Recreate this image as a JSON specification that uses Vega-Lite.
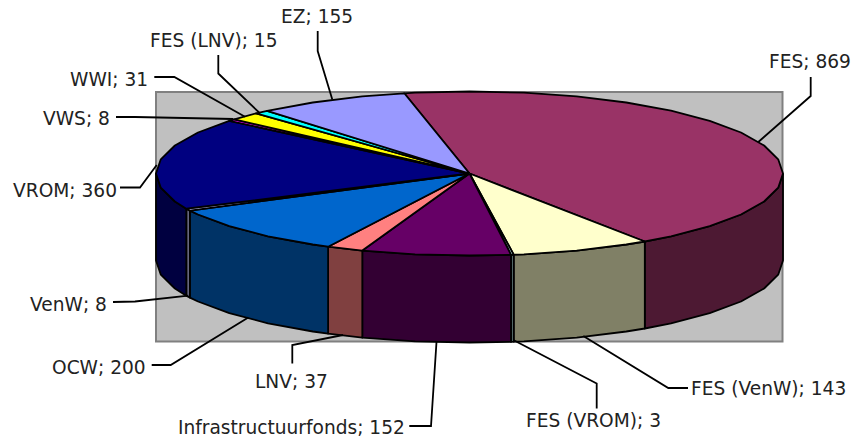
{"$schema":"https://vega.github.io/schema/vega-lite/v6.json","width":860,"height":444,"autosize":{"type":"fit","contains":"padding"},"padding":0,"background":"white","config":{"view":{"stroke":null}},
"datasets":{
"wall":[{"x0":156,"x1":782.5,"y0":91.5,"y1":341}],
"faces":[
{"part":"FES side","i":0,"x":783,"y":173},{"part":"FES side","i":1,"x":778.2,"y":187.2},{"part":"FES side","i":2,"x":764.1,"y":201},{"part":"FES side","i":3,"x":741,"y":214},{"part":"FES side","i":4,"x":709.7,"y":225.7},{"part":"FES side","i":5,"x":671,"y":235.8},{"part":"FES side","i":6,"x":644.8,"y":241},{"part":"FES side","i":7,"x":644.8,"y":328},{"part":"FES side","i":8,"x":671,"y":322.8},{"part":"FES side","i":9,"x":709.7,"y":312.7},{"part":"FES side","i":10,"x":741,"y":301},{"part":"FES side","i":11,"x":764.1,"y":288},{"part":"FES side","i":12,"x":778.2,"y":274.2},{"part":"FES side","i":13,"x":783,"y":260},{"part":"FES side","i":14,"x":783,"y":173},
{"part":"FES (VenW) side","i":0,"x":644.8,"y":241},{"part":"FES (VenW) side","i":1,"x":626.3,"y":244},{"part":"FES (VenW) side","i":2,"x":576.7,"y":250.1},{"part":"FES (VenW) side","i":3,"x":523.9,"y":253.8},{"part":"FES (VenW) side","i":4,"x":513.7,"y":254.2},{"part":"FES (VenW) side","i":5,"x":513.7,"y":341.2},{"part":"FES (VenW) side","i":6,"x":523.9,"y":340.8},{"part":"FES (VenW) side","i":7,"x":576.7,"y":337.1},{"part":"FES (VenW) side","i":8,"x":626.3,"y":331},{"part":"FES (VenW) side","i":9,"x":644.8,"y":328},{"part":"FES (VenW) side","i":10,"x":644.8,"y":241},
{"part":"FES (VROM) side","i":0,"x":513.7,"y":254.2},{"part":"FES (VROM) side","i":1,"x":511,"y":254.3},{"part":"FES (VROM) side","i":2,"x":511,"y":341.3},{"part":"FES (VROM) side","i":3,"x":513.7,"y":341.2},{"part":"FES (VROM) side","i":4,"x":513.7,"y":254.2},
{"part":"Infrastructuurfonds side","i":0,"x":511,"y":254.3},{"part":"Infrastructuurfonds side","i":1,"x":469.5,"y":255},{"part":"Infrastructuurfonds side","i":2,"x":415.1,"y":253.8},{"part":"Infrastructuurfonds side","i":3,"x":362.3,"y":250.1},{"part":"Infrastructuurfonds side","i":4,"x":362.3,"y":337.1},{"part":"Infrastructuurfonds side","i":5,"x":415.1,"y":340.8},{"part":"Infrastructuurfonds side","i":6,"x":469.5,"y":342},{"part":"Infrastructuurfonds side","i":7,"x":511,"y":341.3},{"part":"Infrastructuurfonds side","i":8,"x":511,"y":254.3},
{"part":"LNV side","i":0,"x":362.3,"y":250.1},{"part":"LNV side","i":1,"x":328.1,"y":246.2},{"part":"LNV side","i":2,"x":328.1,"y":333.2},{"part":"LNV side","i":3,"x":362.3,"y":337.1},{"part":"LNV side","i":4,"x":362.3,"y":250.1},
{"part":"OCW side","i":0,"x":328.1,"y":246.2},{"part":"OCW side","i":1,"x":312.8,"y":244},{"part":"OCW side","i":2,"x":268,"y":235.8},{"part":"OCW side","i":3,"x":229.3,"y":225.7},{"part":"OCW side","i":4,"x":198,"y":214},{"part":"OCW side","i":5,"x":189.9,"y":210.1},{"part":"OCW side","i":6,"x":189.9,"y":297.1},{"part":"OCW side","i":7,"x":198,"y":301},{"part":"OCW side","i":8,"x":229.3,"y":312.7},{"part":"OCW side","i":9,"x":268,"y":322.8},{"part":"OCW side","i":10,"x":312.8,"y":331},{"part":"OCW side","i":11,"x":328.1,"y":333.2},{"part":"OCW side","i":12,"x":328.1,"y":246.2},
{"part":"VenW side","i":0,"x":189.9,"y":210.1},{"part":"VenW side","i":1,"x":186.3,"y":208.2},{"part":"VenW side","i":2,"x":186.3,"y":295.2},{"part":"VenW side","i":3,"x":189.9,"y":297.1},{"part":"VenW side","i":4,"x":189.9,"y":210.1},
{"part":"VROM side","i":0,"x":186.3,"y":208.2},{"part":"VROM side","i":1,"x":174.9,"y":201},{"part":"VROM side","i":2,"x":160.8,"y":187.2},{"part":"VROM side","i":3,"x":156,"y":173},{"part":"VROM side","i":4,"x":156,"y":260},{"part":"VROM side","i":5,"x":160.8,"y":274.2},{"part":"VROM side","i":6,"x":174.9,"y":288},{"part":"VROM side","i":7,"x":186.3,"y":295.2},{"part":"VROM side","i":8,"x":186.3,"y":208.2},
{"part":"FES top","i":0,"x":469.5,"y":173},{"part":"FES top","i":1,"x":404.3,"y":92.8},{"part":"FES top","i":2,"x":415.1,"y":92.2},{"part":"FES top","i":3,"x":469.5,"y":91},{"part":"FES top","i":4,"x":523.9,"y":92.2},{"part":"FES top","i":5,"x":576.7,"y":95.9},{"part":"FES top","i":6,"x":626.3,"y":102},{"part":"FES top","i":7,"x":671,"y":110.2},{"part":"FES top","i":8,"x":709.7,"y":120.3},{"part":"FES top","i":9,"x":741,"y":132},{"part":"FES top","i":10,"x":764.1,"y":145},{"part":"FES top","i":11,"x":778.2,"y":158.8},{"part":"FES top","i":12,"x":783,"y":173},{"part":"FES top","i":13,"x":778.2,"y":187.2},{"part":"FES top","i":14,"x":764.1,"y":201},{"part":"FES top","i":15,"x":741,"y":214},{"part":"FES top","i":16,"x":709.7,"y":225.7},{"part":"FES top","i":17,"x":671,"y":235.8},{"part":"FES top","i":18,"x":644.8,"y":241},{"part":"FES top","i":19,"x":469.5,"y":173},
{"part":"FES (VenW) top","i":0,"x":469.5,"y":173},{"part":"FES (VenW) top","i":1,"x":644.8,"y":241},{"part":"FES (VenW) top","i":2,"x":626.3,"y":244},{"part":"FES (VenW) top","i":3,"x":576.7,"y":250.1},{"part":"FES (VenW) top","i":4,"x":523.9,"y":253.8},{"part":"FES (VenW) top","i":5,"x":513.7,"y":254.2},{"part":"FES (VenW) top","i":6,"x":469.5,"y":173},
{"part":"FES (VROM) top","i":0,"x":469.5,"y":173},{"part":"FES (VROM) top","i":1,"x":513.7,"y":254.2},{"part":"FES (VROM) top","i":2,"x":511,"y":254.3},{"part":"FES (VROM) top","i":3,"x":469.5,"y":173},
{"part":"Infrastructuurfonds top","i":0,"x":469.5,"y":173},{"part":"Infrastructuurfonds top","i":1,"x":511,"y":254.3},{"part":"Infrastructuurfonds top","i":2,"x":469.5,"y":255},{"part":"Infrastructuurfonds top","i":3,"x":415.1,"y":253.8},{"part":"Infrastructuurfonds top","i":4,"x":362.3,"y":250.1},{"part":"Infrastructuurfonds top","i":5,"x":469.5,"y":173},
{"part":"LNV top","i":0,"x":469.5,"y":173},{"part":"LNV top","i":1,"x":362.3,"y":250.1},{"part":"LNV top","i":2,"x":328.1,"y":246.2},{"part":"LNV top","i":3,"x":469.5,"y":173},
{"part":"OCW top","i":0,"x":469.5,"y":173},{"part":"OCW top","i":1,"x":328.1,"y":246.2},{"part":"OCW top","i":2,"x":312.8,"y":244},{"part":"OCW top","i":3,"x":268,"y":235.8},{"part":"OCW top","i":4,"x":229.3,"y":225.7},{"part":"OCW top","i":5,"x":198,"y":214},{"part":"OCW top","i":6,"x":189.9,"y":210.1},{"part":"OCW top","i":7,"x":469.5,"y":173},
{"part":"VenW top","i":0,"x":469.5,"y":173},{"part":"VenW top","i":1,"x":189.9,"y":210.1},{"part":"VenW top","i":2,"x":186.3,"y":208.2},{"part":"VenW top","i":3,"x":469.5,"y":173},
{"part":"VROM top","i":0,"x":469.5,"y":173},{"part":"VROM top","i":1,"x":186.3,"y":208.2},{"part":"VROM top","i":2,"x":174.9,"y":201},{"part":"VROM top","i":3,"x":160.8,"y":187.2},{"part":"VROM top","i":4,"x":156,"y":173},{"part":"VROM top","i":5,"x":160.8,"y":158.8},{"part":"VROM top","i":6,"x":174.9,"y":145},{"part":"VROM top","i":7,"x":198,"y":132},{"part":"VROM top","i":8,"x":229.3,"y":120.3},{"part":"VROM top","i":9,"x":469.5,"y":173},
{"part":"VWS top","i":0,"x":469.5,"y":173},{"part":"VWS top","i":1,"x":229.3,"y":120.3},{"part":"VWS top","i":2,"x":234.3,"y":118.8},{"part":"VWS top","i":3,"x":469.5,"y":173},
{"part":"WWI top","i":0,"x":469.5,"y":173},{"part":"WWI top","i":1,"x":234.3,"y":118.8},{"part":"WWI top","i":2,"x":256.1,"y":112.9},{"part":"WWI top","i":3,"x":469.5,"y":173},
{"part":"FES (LNV) top","i":0,"x":469.5,"y":173},{"part":"FES (LNV) top","i":1,"x":256.1,"y":112.9},{"part":"FES (LNV) top","i":2,"x":267.1,"y":110.4},{"part":"FES (LNV) top","i":3,"x":469.5,"y":173},
{"part":"EZ top","i":0,"x":469.5,"y":173},{"part":"EZ top","i":1,"x":267.1,"y":110.4},{"part":"EZ top","i":2,"x":312.8,"y":102},{"part":"EZ top","i":3,"x":362.3,"y":95.9},{"part":"EZ top","i":4,"x":404.3,"y":92.8},{"part":"EZ top","i":5,"x":469.5,"y":173}
],
"leaders":[
{"k":"FES","i":0,"x":810.7,"y":76.5},{"k":"FES","i":1,"x":810.7,"y":95.5},{"k":"FES","i":2,"x":758.3,"y":141.5},
{"k":"FES (VenW)","i":0,"x":688,"y":387.5},{"k":"FES (VenW)","i":1,"x":668.3,"y":387.5},{"k":"FES (VenW)","i":2,"x":583.3,"y":335.5},
{"k":"FES (VROM)","i":0,"x":596.7,"y":408},{"k":"FES (VROM)","i":1,"x":596.7,"y":383},{"k":"FES (VROM)","i":2,"x":513.3,"y":339.5},
{"k":"Infrastructuurfonds","i":0,"x":409.3,"y":425.5},{"k":"Infrastructuurfonds","i":1,"x":431,"y":425.5},{"k":"Infrastructuurfonds","i":2,"x":436.5,"y":341.5},
{"k":"LNV","i":0,"x":292.3,"y":363},{"k":"LNV","i":1,"x":292.3,"y":344.5},{"k":"LNV","i":2,"x":343,"y":334.5},
{"k":"OCW","i":0,"x":151.7,"y":364.5},{"k":"OCW","i":1,"x":170.7,"y":364.5},{"k":"OCW","i":2,"x":248.3,"y":317},
{"k":"VenW","i":0,"x":113,"y":301.5},{"k":"VenW","i":1,"x":135,"y":301},{"k":"VenW","i":2,"x":188.3,"y":295.2},
{"k":"VROM","i":0,"x":120,"y":187},{"k":"VROM","i":1,"x":140,"y":187},{"k":"VROM","i":2,"x":156.7,"y":164.5},
{"k":"VWS","i":0,"x":116,"y":116.5},{"k":"VWS","i":1,"x":135,"y":116.5},{"k":"VWS","i":2,"x":233.3,"y":118.5},
{"k":"WWI","i":0,"x":154.3,"y":76.5},{"k":"WWI","i":1,"x":174.3,"y":76.5},{"k":"WWI","i":2,"x":245,"y":116.2},
{"k":"FES (LNV)","i":0,"x":218.3,"y":54.5},{"k":"FES (LNV)","i":1,"x":218.3,"y":73},{"k":"FES (LNV)","i":2,"x":259.3,"y":112.2},
{"k":"EZ","i":0,"x":317.7,"y":30.5},{"k":"EZ","i":1,"x":317.7,"y":50.5},{"k":"EZ","i":2,"x":332.3,"y":99}
],
"labels":[
{"name":"FES","value":869,"label":"FES; 869","x":769,"y":61},
{"name":"FES (VenW)","value":143,"label":"FES (VenW); 143","x":691,"y":388},
{"name":"FES (VROM)","value":3,"label":"FES (VROM); 3","x":526,"y":420},
{"name":"Infrastructuurfonds","value":152,"label":"Infrastructuurfonds; 152","x":178,"y":427},
{"name":"LNV","value":37,"label":"LNV; 37","x":255,"y":381},
{"name":"OCW","value":200,"label":"OCW; 200","x":52,"y":367},
{"name":"VenW","value":8,"label":"VenW; 8","x":30,"y":304},
{"name":"VROM","value":360,"label":"VROM; 360","x":13,"y":190},
{"name":"VWS","value":8,"label":"VWS; 8","x":43,"y":118},
{"name":"WWI","value":31,"label":"WWI; 31","x":70,"y":79},
{"name":"FES (LNV)","value":15,"label":"FES (LNV); 15","x":150,"y":40},
{"name":"EZ","value":155,"label":"EZ; 155","x":281,"y":16}
]},
"layer":[
{"data":{"name":"wall"},"mark":{"type":"rect","fill":"#C0C0C0","stroke":"#808080","strokeWidth":2},
"encoding":{"x":{"field":"x0","type":"quantitative","scale":{"domain":[0,860],"nice":false,"zero":false},"axis":null},"x2":{"field":"x1"},"y":{"field":"y0","type":"quantitative","scale":{"domain":[443.5,-0.5],"nice":false,"zero":false},"axis":null},"y2":{"field":"y1"}}},
{"data":{"name":"faces"},"mark":{"type":"line","stroke":"black","strokeWidth":1.8,"strokeJoin":"round","interpolate":"linear"},
"encoding":{"x":{"field":"x","type":"quantitative","scale":{"domain":[0,860],"nice":false,"zero":false},"axis":null},"y":{"field":"y","type":"quantitative","scale":{"domain":[443.5,-0.5],"nice":false,"zero":false},"axis":null},"order":{"field":"i","type":"quantitative"},"detail":{"field":"part"},
"fill":{"field":"part","type":"nominal","legend":null,"scale":{
"domain":["FES side","FES (VenW) side","FES (VROM) side","Infrastructuurfonds side","LNV side","OCW side","VenW side","VROM side","FES top","FES (VenW) top","FES (VROM) top","Infrastructuurfonds top","LNV top","OCW top","VenW top","VROM top","VWS top","WWI top","FES (LNV) top","EZ top"],
"range":["#4D1933","#808066","#668080","#330033","#804040","#003366","#666680","#000040","#993366","#FFFFCC","#CCFFFF","#660066","#FF8080","#0066CC","#CCCCFF","#000080","#FF00FF","#FFFF00","#00FFFF","#9999FF"]}}}},
{"data":{"name":"leaders"},"mark":{"type":"line","stroke":"black","strokeWidth":1.8,"fill":null},
"encoding":{"x":{"field":"x","type":"quantitative","scale":{"domain":[0,860],"nice":false,"zero":false},"axis":null},"y":{"field":"y","type":"quantitative","scale":{"domain":[443.5,-0.5],"nice":false,"zero":false},"axis":null},"order":{"field":"i","type":"quantitative"},"detail":{"field":"k"}}},
{"data":{"name":"labels"},"mark":{"type":"text","align":"left","baseline":"middle","font":"DejaVu Sans","fontSize":18.6,"fill":"#222222"},
"encoding":{"x":{"field":"x","type":"quantitative","scale":{"domain":[0,860],"nice":false,"zero":false},"axis":null},"y":{"field":"y","type":"quantitative","scale":{"domain":[443.5,-0.5],"nice":false,"zero":false},"axis":null},"text":{"field":"label"}}}
]}
